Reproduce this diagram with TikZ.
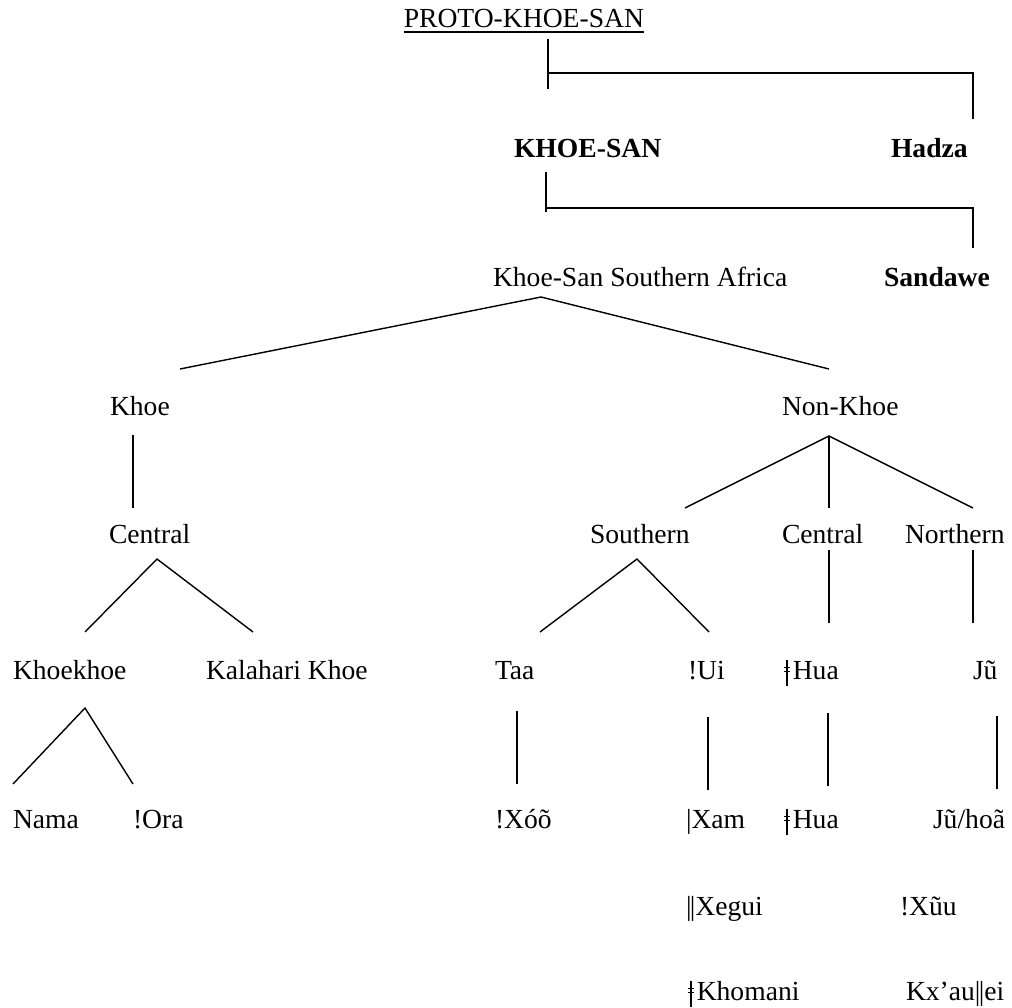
\documentclass[tikz,border=0pt]{standalone}
\usepackage{fontspec}
\setmainfont{Liberation Serif}
% click letters built from rules / bars, as tall as the Times bar
\newcommand\clickbar{|}
\newcommand\clickdbl{|\kern-0.06em|}
\newcommand\clickalv{\leavevmode
  \hbox to 0.36em{\hss\vrule width 0.04em height 0.70em depth 0.24em\hss}\kern-0.36em
  \hbox to 0.36em{\hss\vrule width 0.25em height 0.45em depth -0.405em\hss}\kern-0.36em
  \hbox to 0.36em{\hss\vrule width 0.25em height 0.30em depth -0.255em\hss}\kern0.03em}
\begin{document}
\begin{tikzpicture}[x=1pt,y=-1pt,
  lbl/.style={anchor=base west,inner sep=0pt,outer sep=0pt,font=\fontsize{27.6}{33}\selectfont},
  bld/.style={lbl,font=\fontsize{27.6}{33}\selectfont\bfseries},
  conn/.style={line width=1.4pt,black},
  uline/.style={line width=1.1pt,black}]
\useasboundingbox (0,0) rectangle (1012,1008);
% ---- labels
\node[lbl,anchor=base east] (proto) at (644,28) {PROTO-KHOE-SAN};
\node[bld] (khoesan) at (514,158) {KHOE-SAN};
\node[bld] (hadza) at (891,158) {Hadza};
\node[lbl] (kssa) at (493,287) {Khoe-San Southern Africa};
\node[bld] (sandawe) at (884,287) {Sandawe};
\node[lbl] (khoe) at (110,415) {Khoe};
\node[lbl] (nonkhoe) at (782,415) {Non-Khoe};
\node[lbl] (centralA) at (109,543) {Central};
\node[lbl] (southern) at (590,543) {Southern};
\node[lbl] (centralB) at (782,543) {Central};
\node[lbl] (northern) at (905,543) {Northern};
\node[lbl] (khoekhoe) at (13,679) {Khoekhoe};
\node[lbl] (kalahari) at (206,679) {Kalahari Khoe};
\node[lbl] (taa) at (495,679) {Taa};
\node[lbl] (ui) at (688,679) {!Ui};
\node[lbl] (huaA) at (782,679) {\clickalv Hua};
\node[lbl] (ju) at (973,679) {Jũ};
\node[lbl] (nama) at (13,828) {Nama};
\node[lbl] (ora) at (133,828) {!Ora};
\node[lbl] (xoo) at (495,828) {!Xóõ};
\node[lbl] (xam) at (686,828) {\clickbar Xam};
\node[lbl] (huaB) at (782,828) {\clickalv Hua};
\node[lbl] (juhoa) at (933,828) {Jũ/hoã};
\node[lbl] (xegui) at (686,915) {\clickdbl Xegui};
\node[lbl] (xuu) at (900,915) {!Xũu};
\node[lbl] (khomani) at (686,1000) {\clickalv Khomani};
\node[lbl] (kxauei) at (906,1000) {Kx’au\clickdbl ei};
% underline of the root
\draw[uline] ([yshift=-4pt]proto.base west) -- ([yshift=-4pt]proto.base east);
% ---- connector end points
\coordinate (p1) at (548,39);  \coordinate (p2) at (548,89);
\coordinate (p3) at (548,73);  \coordinate (p4) at (973,73); \coordinate (p5) at (973,119);
\coordinate (k1) at (546,172); \coordinate (k2) at (546,212);
\coordinate (k3) at (546,208); \coordinate (k4) at (973,208); \coordinate (k5) at (973,248);
\coordinate (sa) at (541,297); \coordinate (sa1) at (180,369); \coordinate (sa2) at (829,369);
\coordinate (kh1) at (133,435); \coordinate (kh2) at (133,508);
\coordinate (ca) at (157,559); \coordinate (ca1) at (85,632); \coordinate (ca2) at (253,632);
\coordinate (na) at (829,436); \coordinate (na1) at (685,508); \coordinate (na2) at (829,508); \coordinate (na3) at (973,508);
\coordinate (so) at (637,559); \coordinate (so1) at (540,632); \coordinate (so2) at (709,632);
\coordinate (cb1) at (829,550); \coordinate (cb2) at (829,623);
\coordinate (nb1) at (973,550); \coordinate (nb2) at (973,623);
\coordinate (kk) at (85,708); \coordinate (kk1) at (13,784); \coordinate (kk2) at (133,784);
\coordinate (t1) at (517,711); \coordinate (t2) at (517,784);
\coordinate (u1) at (708,717); \coordinate (u2) at (708,790);
\coordinate (h1) at (828,713); \coordinate (h2) at (828,786);
\coordinate (j1) at (997,716); \coordinate (j2) at (997,789);
% ---- connectors
\draw[conn] (p1) -- (p2);
\draw[conn] (p3) -- (p4) -- (p5);
\draw[conn] (k1) -- (k2);
\draw[conn] (k3) -- (k4) -- (k5);
\draw[conn] (sa1) -- (sa) -- (sa2);
\draw[conn] (kh1) -- (kh2);
\draw[conn] (ca1) -- (ca) -- (ca2);
\draw[conn] (na1) -- (na) -- (na3);
\draw[conn] (na) -- (na2);
\draw[conn] (so1) -- (so) -- (so2);
\draw[conn] (cb1) -- (cb2);
\draw[conn] (nb1) -- (nb2);
\draw[conn] (kk1) -- (kk) -- (kk2);
\draw[conn] (t1) -- (t2);
\draw[conn] (u1) -- (u2);
\draw[conn] (h1) -- (h2);
\draw[conn] (j1) -- (j2);
\end{tikzpicture}
\end{document}
